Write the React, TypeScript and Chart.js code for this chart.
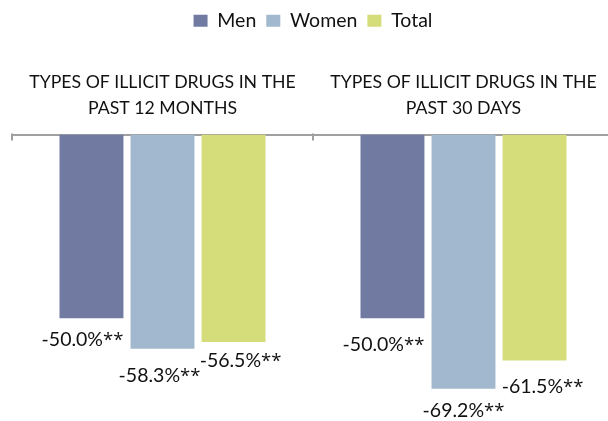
import React, { useEffect, useRef } from "react";
import { Chart, registerables } from "chart.js";

Chart.register(...registerables);

// Categories (two-line axis titles), series names and values (percent change)
const categories: string[][] = [
  ["TYPES OF ILLICIT DRUGS IN THE", "PAST 12 MONTHS"],
  ["TYPES OF ILLICIT DRUGS IN THE", "PAST 30 DAYS"],
];
const seriesNames = ["Men", "Women", "Total"];
const menValues = [-50.0, -50.0];
const womenValues = [-58.3, -69.2];
const totalValues = [-56.5, -61.5];
const valueUnit = "%";
const significanceMark = "**";

const seriesColors = ["#717ba1", "#a2b8cf", "#d5dc7a"];
const FONT = "Lato";
const MARK_FONT = "Open Sans";

// Per-label nudges [dx, dy] measured from the bar end, by series then category
const labelNudges: number[][][] = [
  [[-9, 22], [-9, 27]],
  [[-3, 27], [0, 22]],
  [[7, 19], [8, 26]],
];

const boundaryTicks = {
  id: "boundaryTicks",
  afterDraw(chart: any) {
    const x = chart.scales.x;
    const ctx = chart.ctx;
    const n = chart.data.labels.length;
    const bounds: number[] = [x.left];
    for (let i = 0; i < n - 1; i++) {
      bounds.push((x.getPixelForTick(i) + x.getPixelForTick(i + 1)) / 2);
    }
    bounds.push(x.right);
    ctx.save();
    ctx.strokeStyle = "#a0a0a0";
    ctx.lineWidth = 2;
    bounds.forEach((b) => {
      ctx.beginPath();
      ctx.moveTo(Math.round(b), x.bottom - 1);
      ctx.lineTo(Math.round(b), x.bottom + 6);
      ctx.stroke();
    });
    ctx.restore();
  },
};

const valueLabels = {
  id: "valueLabels",
  afterDatasetsDraw(chart: any) {
    const ctx = chart.ctx;
    const numFont = `19.5px ${FONT}`;
    const markFont = `18.5px "${MARK_FONT}"`;
    ctx.save();
    ctx.fillStyle = "#111111";
    ctx.textAlign = "left";
    ctx.textBaseline = "middle";
    chart.data.datasets.forEach((ds: any, di: number) => {
      const meta = chart.getDatasetMeta(di);
      meta.data.forEach((bar: any, i: number) => {
        const [dx, dy] = labelNudges[di][i];
        const num = ds.data[i].toFixed(1) + valueUnit;
        ctx.font = numFont;
        const wNum = ctx.measureText(num).width;
        ctx.font = markFont;
        const wMark = ctx.measureText(significanceMark).width;
        const x0 = bar.x + dx - (wNum + wMark) / 2;
        const y = bar.y + dy;
        ctx.font = numFont;
        ctx.fillText(num, x0, y);
        ctx.font = markFont;
        ctx.fillText(significanceMark, x0 + wNum, y + 1);
      });
    });
    ctx.restore();
  },
};

export default function App() {
  const canvasRef = useRef<HTMLCanvasElement | null>(null);

  useEffect(() => {
    if (!canvasRef.current) return;
    const values = [menValues, womenValues, totalValues];
    const chart = new Chart(canvasRef.current, {
      type: "bar",
      data: {
        labels: categories,
        datasets: seriesNames.map((name, i) => ({
          label: name,
          data: values[i],
          backgroundColor: seriesColors[i],
          borderWidth: 0,
          barPercentage: 0.9,
          categoryPercentage: 0.708,
        })),
      },
      options: {
        animation: false,
        responsive: true,
        maintainAspectRatio: false,
        layout: { padding: { left: 12, right: 12, top: 1, bottom: 0 } },
        plugins: {
          legend: {
            position: "top",
            labels: {
              boxWidth: 14,
              boxHeight: 12,
              padding: 10,
              color: "#111111",
              font: { family: FONT, size: 19.5 },
            },
          },
          tooltip: { enabled: false },
        },
        scales: {
          x: {
            position: "top",
            grid: { display: false, drawTicks: false },
            border: { display: true, color: "#a0a0a0", width: 2 },
            ticks: {
              color: "#111111",
              padding: 13,
              maxRotation: 0,
              autoSkip: false,
              font: { family: FONT, size: 17.7, lineHeight: 1.47 },
            },
            afterFit(scale: any) {
              scale.height = 94;
            },
          },
          y: {
            display: false,
            min: -78,
            max: 0,
          },
        },
      },
      plugins: [boundaryTicks, valueLabels],
    });
    return () => chart.destroy();
  }, []);

  return (
    <div
      style={{
        position: "fixed",
        left: 0,
        top: 0,
        width: 608,
        height: 421,
        overflow: "hidden",
        background: "#ffffff",
      }}
    >
      <div style={{ position: "relative", width: 626, height: 421 }}>
        <canvas ref={canvasRef} />
      </div>
    </div>
  );
}
